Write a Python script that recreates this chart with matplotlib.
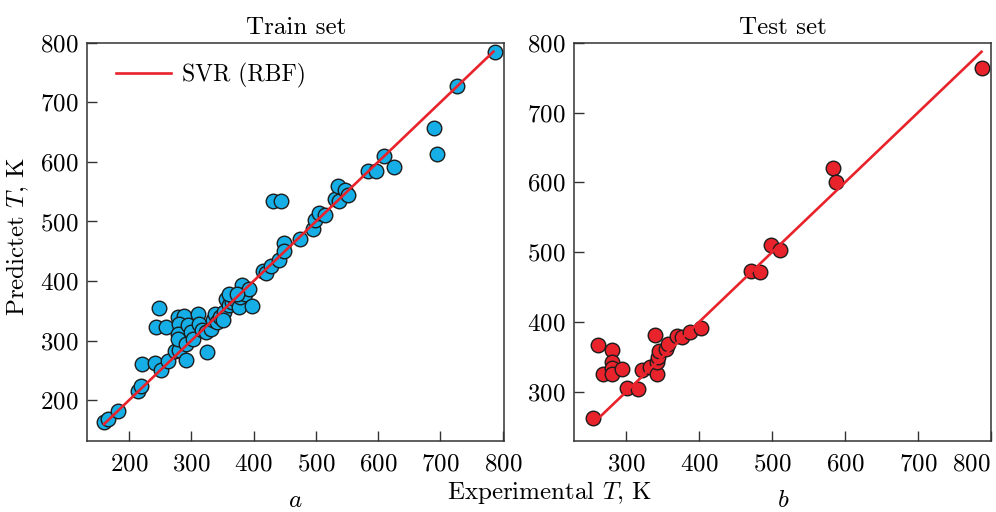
import numpy as np
import matplotlib
matplotlib.use("Agg")
import matplotlib.pyplot as plt

plt.rcParams['font.family'] = 'cmr10'
plt.rcParams['mathtext.fontset'] = 'cm'
plt.rcParams['axes.formatter.use_mathtext'] = True

# train set: experimental vs predicted T, K
train_exp = [160, 167, 182, 215, 220, 221, 242, 251, 263, 248, 243, 259, 274, 281,
             291, 278, 288, 280, 279, 278, 294, 299, 292, 303, 311, 313, 317, 325,
             324, 331, 335, 338, 342, 346, 353, 355, 360, 365, 370, 376, 378, 382,
             386, 392, 398, 415, 420, 428, 440, 449, 449, 474, 495, 498, 505, 514,
             431, 444, 530, 537, 535, 546, 551, 584, 596, 610, 625, 689, 695, 727,
             787, 351, 361, 373]
train_pred = [164, 169, 182, 216, 223, 260, 263, 251, 265, 354, 323, 323, 282, 284,
              267, 340, 341, 328, 311, 302, 326, 315, 294, 303, 344, 328, 317, 281,
              315, 320, 334, 345, 331, 340, 348, 370, 359, 365, 370, 356, 373, 393,
              379, 387, 358, 417, 413, 426, 436, 464, 450, 470, 488, 503, 514, 510,
              535, 535, 538, 534, 559, 553, 545, 585, 585, 609, 591, 657, 613, 727,
              785, 334, 379, 379]

# test set
test_exp = [255, 262, 268, 280, 281, 281, 280, 294, 301, 316, 322, 333, 340, 343,
            343, 344, 345, 354, 358, 370, 376, 388, 402, 471, 483, 499, 511, 584,
            588, 787]
test_pred = [263, 367, 325, 360, 342, 334, 326, 332, 306, 304, 331, 335, 381, 326,
             343, 350, 359, 361, 369, 380, 379, 385, 391, 473, 471, 510, 503, 621,
             601, 764]

train_ticks = [200, 300, 400, 500, 600, 700, 800]
test_ticks = [300, 400, 500, 600, 700, 800]

fig = plt.figure(figsize=(9.96, 5.12), dpi=100)
W, H = 996, 512
ax1 = fig.add_axes([87.3 / W, 1 - 440.7 / H, (504 - 87.3) / W, (440.7 - 42.7) / H])
ax2 = fig.add_axes([574.3 / W, 1 - 440.7 / H, (991 - 574.3) / W, (440.7 - 42.7) / H])

red = '#e8232b'
fs = 18

# train panel
ax1.plot([160, 785], [160, 785], color=red, lw=1.9, zorder=3, label='SVR (RBF)')
ax1.scatter(train_exp, train_pred, s=110, color='#16aee6', edgecolors='#1c1c1c',
            linewidths=1.0, zorder=2)
ax1.set_xlim(133, 802)
ax1.set_ylim(132, 800)
ax1.set_xticks(train_ticks)
ax1.set_yticks(train_ticks)
ax1.set_title('Train set', fontsize=fs, pad=6)
ax1.legend(loc='upper left', frameon=False, fontsize=17, handlelength=2.3,
           handletextpad=0.5, bbox_to_anchor=(0.03, 0.99), borderaxespad=0.3)

# test panel
ax2.plot([262, 787], [262, 787], color=red, lw=1.9, zorder=3)
ax2.scatter(test_exp, test_pred, s=110, color=red, edgecolors='#1c1c1c',
            linewidths=1.0, zorder=2)
ax2.set_xlim(229, 800)
ax2.set_ylim(230, 800)
ax2.set_xticks(test_ticks)
ax2.set_yticks(test_ticks)
ax2.set_title('Test set', fontsize=fs, pad=6)

for ax in (ax1, ax2):
    ax.tick_params(direction='in', length=7, width=1, labelsize=fs, color='#333333')
    ax.tick_params(axis='x', pad=9)
    ax.tick_params(axis='y', pad=6)
    for s in ax.spines.values():
        s.set_color('#333333')
        s.set_linewidth(1.1)

fig.canvas.draw()
ax2.get_xticklabels()[-1].set_horizontalalignment('right')

fig.text(550 / W, 1 - 493 / H, 'Experimental $T$, K', ha='center', va='center', fontsize=fs)
fig.text(18 / W, 1 - 237 / H, 'Predictet $T$, K', ha='center', va='center',
         rotation=90, fontsize=fs)
fig.text(295 / W, 1 - 501 / H, '$a$', ha='center', va='center', fontsize=18)
fig.text(783 / W, 1 - 501 / H, '$b$', ha='center', va='center', fontsize=18)

fig.savefig('out.png', dpi=100)
